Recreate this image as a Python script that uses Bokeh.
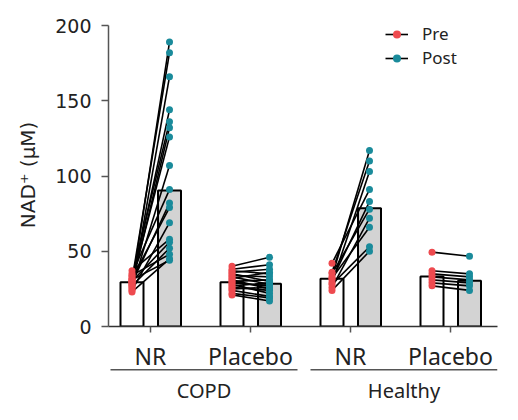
from bokeh.plotting import figure
from bokeh.layouts import column
from bokeh.models import Range1d, FixedTicker, Legend, LegendItem
from bokeh.core.properties import value
from bokeh.embed import file_html
from bokeh.resources import INLINE

# ---------------- data ----------------
categories = ["NR", "Placebo", "NR", "Placebo"]
cohorts = ["COPD", "Healthy"]
cohort_members = [[0, 1], [2, 3]]

copd_nr_pre = [27, 31, 25, 29, 33, 28, 30, 26, 35, 29, 32, 24, 37, 30, 27, 34, 23, 31]
copd_nr_post = [189, 182, 166, 144, 136, 132, 126, 107, 91, 82, 79, 69, 58, 56, 52, 48, 45, 44]

copd_pl_pre = [40, 38, 37, 36, 35, 34, 33, 32, 31, 30, 29, 28, 27, 26, 25, 24, 22, 21]
copd_pl_post = [46, 41, 35, 38, 30, 33, 28, 36, 25, 31, 27, 22, 29, 24, 26, 20, 19, 17]

healthy_nr_pre = [33, 36, 29, 42, 31, 35, 26, 32, 28, 24]
healthy_nr_post = [117, 110, 103, 91, 83, 78, 72, 66, 53, 50]

healthy_pl_pre = [49.4, 37, 35, 33, 31, 29, 27]
healthy_pl_post = [46.7, 35, 33, 31, 29, 27, 24]

bar_pre = [29.4, 29.4, 31.7, 33.2]
bar_post = [90.4, 28.4, 78.6, 30.4]

y_ticks = [0, 50, 100, 150, 200]

pre_series = [copd_nr_pre, copd_pl_pre, healthy_nr_pre, healthy_pl_pre]
post_series = [copd_nr_post, copd_pl_post, healthy_nr_post, healthy_pl_post]

# ---------------- styles ----------------
RED = "#ee4a4f"
TEAL = "#1a8b9b"
GREY = "#d3d3d3"
TXT = "#222222"
PRE_OFF = -0.185
POST_OFF = 0.19
BAR_W = 0.23
W = 502
LEFT = 108
RIGHT = 5

xr = Range1d(-0.42, 3.47)

p = figure(width=W, height=336,
           x_range=xr, y_range=Range1d(0, 210),
           output_backend="svg", toolbar_location=None,
           min_border_left=LEFT, min_border_right=RIGHT,
           min_border_top=10, min_border_bottom=10)
p.outline_line_color = None
p.grid.visible = False

idx = list(range(len(categories)))
p.vbar(x=[i + PRE_OFF for i in idx], top=bar_pre, width=BAR_W, bottom=0,
       fill_color="white", line_color="black", line_width=2)
p.vbar(x=[i + POST_OFF for i in idx], top=bar_post, width=BAR_W, bottom=0,
       fill_color=GREY, line_color="black", line_width=2)

xs, ys, px, py, qx, qy = [], [], [], [], [], []
for i, (pre, post) in enumerate(zip(pre_series, post_series)):
    for a, b in zip(pre, post):
        xs.append([i + PRE_OFF, i + POST_OFF])
        ys.append([a, b])
        px.append(i + PRE_OFF); py.append(a)
        qx.append(i + POST_OFF); qy.append(b)

lines = p.multi_line(xs=xs, ys=ys, line_color="black", line_width=1.6)
pre_pts = p.scatter(x=px, y=py, size=7, fill_color=RED, line_color=None)
post_pts = p.scatter(x=qx, y=qy, size=7, fill_color=TEAL, line_color=None)

# ---------------- axes ----------------
p.yaxis.ticker = FixedTicker(ticks=y_ticks)
p.yaxis.bounds = (y_ticks[0], y_ticks[-1])
p.yaxis.minor_tick_line_color = None
p.yaxis.major_tick_out = 7
p.yaxis.major_tick_in = 0
p.yaxis.axis_line_color = "#555555"
p.yaxis.major_tick_line_color = "#555555"
p.yaxis.axis_line_width = 1.5
p.yaxis.major_tick_line_width = 1.5
p.yaxis.major_label_text_font = "DejaVu Sans"
p.yaxis.major_label_text_font_size = "19px"
p.yaxis.major_label_text_color = TXT
p.yaxis.major_label_standoff = 10
# trailing no-break spaces centre the rotated title on the 0-200 span
p.yaxis.axis_label = "NAD\u207a (\u03bcM)\u00a0\u00a0"
p.yaxis.axis_label_text_font = "DejaVu Sans"
p.yaxis.axis_label_text_font_size = "20px"
p.yaxis.axis_label_text_font_style = "normal"
p.yaxis.axis_label_text_color = TXT
p.yaxis.axis_label_standoff = 12

p.xaxis.ticker = FixedTicker(ticks=idx)
p.xaxis.major_label_overrides = {i: "" for i in idx}
p.xaxis.major_label_text_font_size = "0px"
p.xaxis.major_label_standoff = 0
p.xaxis.minor_tick_line_color = None
p.xaxis.major_tick_out = 6
p.xaxis.major_tick_in = 0
p.xaxis.axis_line_color = "#333333"
p.xaxis.major_tick_line_color = "#555555"
p.xaxis.axis_line_width = 1.5
p.xaxis.major_tick_line_width = 1.5

legend = Legend(items=[LegendItem(label="Pre", renderers=[lines, pre_pts]),
                       LegendItem(label="Post", renderers=[lines, post_pts])],
                location=(277, 257), orientation="vertical",
                glyph_width=23, glyph_height=20, label_height=20,
                label_standoff=14, spacing=1, padding=0, margin=0,
                border_line_color=None, background_fill_alpha=0,
                label_text_font="Noto Sans", label_text_font_size="17px",
                label_text_color=TXT)
p.add_layout(legend)

# ---------------- category + cohort labels (strip sharing the x range) ----------------
q = figure(width=W, height=68, x_range=xr, y_range=Range1d(-68, 0),
           output_backend="svg", toolbar_location=None,
           min_border_left=LEFT, min_border_right=RIGHT,
           min_border_top=0, min_border_bottom=0)
q.axis.visible = False
q.grid.visible = False
q.outline_line_color = None

q.text(x=idx, y=[-19] * len(idx), text=categories, text_align="center",
       text_baseline="alphabetic", text_font=value("Noto Sans"),
       text_font_size="23px", text_color=TXT)

x0s = [m[0] - 0.40 for m in cohort_members]
x1s = [m[-1] + 0.47 for m in cohort_members]
mids = [(a + b) / 2 for a, b in zip(x0s, x1s)]
q.segment(x0=x0s, x1=x1s, y0=[-33.3] * len(cohorts), y1=[-33.3] * len(cohorts),
          line_color="#555555", line_width=1.5)
q.text(x=mids, y=[-54] * len(cohorts), text=cohorts, text_align="center",
       text_baseline="alphabetic", text_font=value("Noto Sans"),
       text_font_size="20px", text_color=TXT)

layout = column(p, q, spacing=0)
open("out.html", "w").write(file_html(layout, INLINE))
